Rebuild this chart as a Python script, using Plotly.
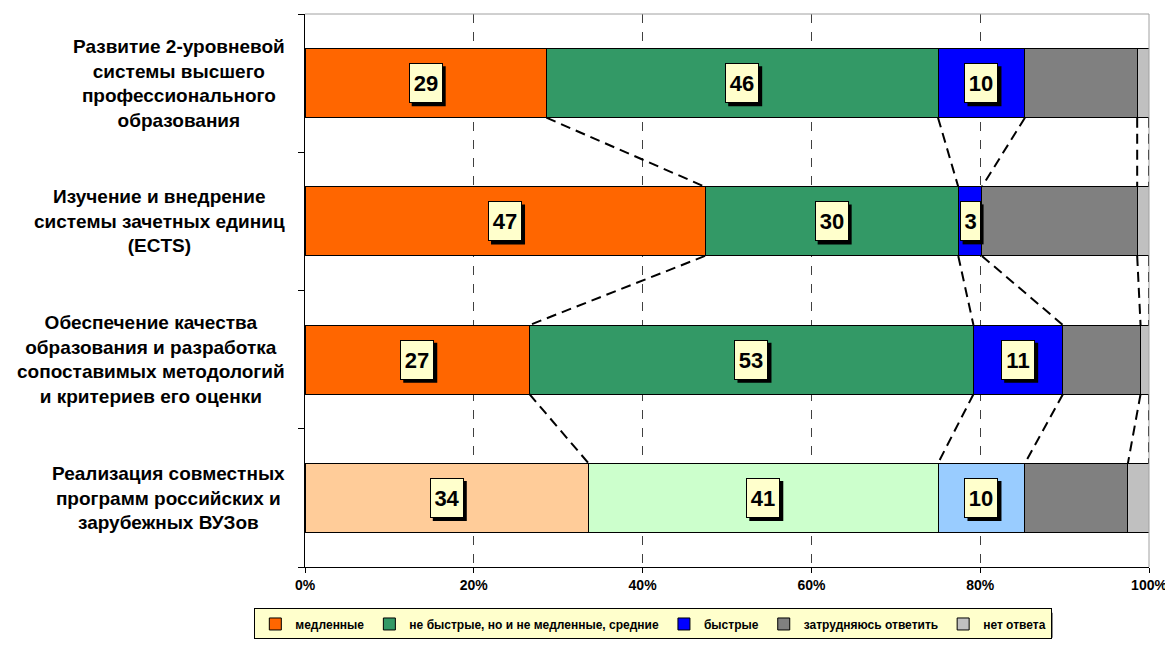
import plotly.graph_objects as go

categories = [
    "Развитие 2-уровневой<br>системы высшего<br>профессионального<br>образования",
    "Изучение и внедрение<br>системы зачетных единиц<br>(ECTS)",
    "Обеспечение качества<br>образования и разработка<br>сопоставимых методологий<br>и критериев его оценки",
    "Реализация совместных<br>программ российских и<br>зарубежных ВУЗов",
]
series_names = ["медленные", "не быстрые, но и не медленные, средние", "быстрые",
                "затрудняюсь ответить", "нет ответа"]
# values per series, one entry per category (percent)
slow = [28.6, 47.4, 26.6, 33.6]
medium = [46.4, 30.0, 52.6, 41.4]
fast = [10.3, 2.8, 10.6, 10.3]
hard = [13.3, 18.4, 9.2, 12.2]
noans = [1.4, 1.4, 1.0, 2.5]
series_values = [slow, medium, fast, hard, noans]
labeled_series = [True, True, True, False, False]
x_ticks = [0, 20, 40, 60, 80, 100]
x_ticktext = ["0%", "20%", "40%", "60%", "80%", "100%"]

main_colors = ["#FF6600", "#339966", "#0000FF", "#808080", "#C0C0C0"]
last_colors = ["#FFCC99", "#CCFFCC", "#99CCFF", "#808080", "#C0C0C0"]

FONT = "Liberation Sans, Arial, sans-serif"
# page body has an 8px margin: figure is sized to fit the 1173x646 window
W, H = 1165, 638
ML, MR, MT, MB = 297, 20, 6, 77
PW, PH = W - ML - MR, H - MT - MB


def px_to_paper_x(px):
    return (px - ML) / PW


def px_to_paper_y(py):
    return (H - MB - py) / PH


fig = go.Figure()
n = len(categories)
for s, name in enumerate(series_names):
    cols = [main_colors[s]] * (n - 1) + [last_colors[s]]
    fig.add_trace(go.Bar(
        y=list(range(n)), x=series_values[s], name=name, orientation="h",
        marker=dict(color=cols, line=dict(color="#000000", width=1)),
        width=0.5, hoverinfo="skip",
    ))

# cumulative boundaries
cum = []
for i in range(n):
    c, acc = [], 0.0
    for s in range(len(series_names)):
        acc += series_values[s][i]
        c.append(acc)
    cum.append(c)

shapes = []
# series lines
for k in range(len(series_names)):
    for i in range(n - 1):
        shapes.append(dict(type="line", xref="x", yref="y",
                           x0=cum[i][k], y0=i + 0.25, x1=cum[i + 1][k], y1=i + 0.75,
                           line=dict(color="black", width=2, dash="10px,6px"), layer="above"))
# top and right border of plot area
shapes.append(dict(type="line", xref="paper", yref="paper", x0=0, y0=1, x1=1, y1=1,
                   line=dict(color="#A0A0A0", width=1)))
shapes.append(dict(type="line", xref="paper", yref="paper", x0=1, y0=0, x1=1, y1=1,
                   line=dict(color="#A0A0A0", width=1)))
# legend drop shadow
shapes.append(dict(type="rect", xref="paper", yref="paper",
                   x0=px_to_paper_x(253), x1=px_to_paper_x(1048),
                   y0=px_to_paper_y(607), y1=px_to_paper_y(632),
                   fillcolor="black", line=dict(width=0), layer="above"))

annotations = []
PAD, BOXH = 3, 32
for i in range(n):
    start = 0.0
    for s in range(len(series_names)):
        v = series_values[s][i]
        if labeled_series[s]:
            xc = start + v / 2
            txt = str(int(round(v)))
            tw = 13 * len(txt)
            half_w = tw / 2 + PAD + 1
            half_h = BOXH / 2 + PAD + 1
            # drop shadow of the value box
            shapes.append(dict(type="rect", xref="x", yref="y",
                               xsizemode="pixel", ysizemode="pixel",
                               xanchor=xc, yanchor=i,
                               x0=-half_w + 3, x1=half_w + 3,
                               y0=-half_h - 3, y1=half_h - 3,
                               fillcolor="black", line=dict(width=0), layer="above"))
            annotations.append(dict(
                x=xc, y=i, xref="x", yref="y", text=txt, showarrow=False,
                font=dict(family=FONT, size=22, color="black", weight="bold"),
                bgcolor="#FFFFCC", bordercolor="#000000", borderwidth=1,
                borderpad=PAD, height=BOXH, width=tw,
            ))
        start += v

for i, cat in enumerate(categories):
    annotations.append(dict(
        x=0, y=i, xref="paper", yref="y", text=cat, showarrow=False,
        xanchor="right", align="center", xshift=-18,
        font=dict(family=FONT, size=19, color="black", weight="bold"),
    ))

fig.update_layout(
    width=W, height=H,
    margin=dict(l=ML, r=MR, t=MT, b=MB),
    paper_bgcolor="white", plot_bgcolor="white",
    barmode="stack", showlegend=True,
    font=dict(family=FONT, color="black"),
    xaxis=dict(range=[0, 100], tickvals=x_ticks, ticktext=x_ticktext,
               showgrid=True, gridcolor="#404040", griddash="dash", gridwidth=1,
               showline=True, linecolor="black", linewidth=1,
               ticks="outside", ticklen=5, tickcolor="black",
               tickfont=dict(family=FONT, size=14, color="black", weight="bold"),
               zeroline=False, fixedrange=True),
    yaxis=dict(range=[n - 0.5, -0.5], tickvals=[i - 0.5 for i in range(n + 1)],
               showticklabels=False, showgrid=False, zeroline=False,
               showline=True, linecolor="black", linewidth=1,
               ticks="outside", ticklen=6, tickcolor="black", fixedrange=True),
    legend=dict(orientation="h", x=0.4127, xanchor="center", y=-0.075, yanchor="top",
                bgcolor="#FFFFCC", bordercolor="black", borderwidth=1,
                font=dict(family=FONT, size=12, color="black", weight="bold"),
                traceorder="normal", itemwidth=30),
    shapes=shapes, annotations=annotations,
)
fig.write_html("out.html")
